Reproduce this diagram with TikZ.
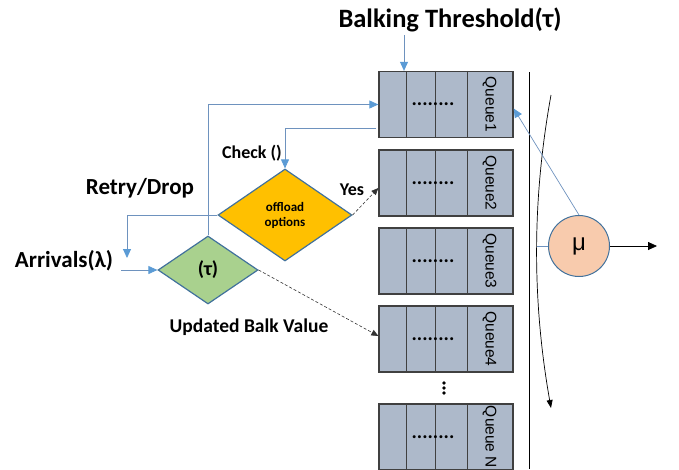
\documentclass[tikz,border=0pt]{standalone}
\usepackage{fontspec}
\setmainfont{Carlito}
\newfontfamily\qfont{Liberation Sans}
\usetikzlibrary{shapes.geometric,arrows.meta}

\definecolor{qfill}{HTML}{ADB9CA}
\definecolor{qline}{HTML}{404040}
\definecolor{offload}{HTML}{FFC000}
\definecolor{balk}{HTML}{A9D18E}
\definecolor{peach}{HTML}{F8CBAD}
\definecolor{dline}{HTML}{41719C}
\definecolor{flowline}{HTML}{6E92BE}
\definecolor{flowhead}{HTML}{5B9BD5}

\begin{document}
\begin{tikzpicture}[x=1pt,y=-1pt,
  queue/.style={draw=qline,fill=qfill,line width=1.3pt,minimum width=134pt,minimum height=66pt,inner sep=0pt},
  qname/.style={font=\qfont\fontsize{15.5}{15.5}\selectfont,rotate=-90,inner sep=0pt},
  qdots/.style={font=\bfseries\fontsize{20}{20}\selectfont,inner sep=0pt},
  decision/.style={diamond,draw=dline,line width=1.2pt,inner sep=0pt,align=center},
  lbl/.style={font=\bfseries\fontsize{23}{23}\selectfont,inner sep=0pt},
  flow/.style={draw=flowline,line width=0.9pt,-{Triangle[length=9pt,width=8pt,color=flowhead]}},
  dashlink/.style={draw=black!80,densely dashed,line width=0.6pt,-{Triangle[length=7pt,width=6pt]}}]
  \clip (0,0) rectangle (679,469);

  % queues with their cells
  \foreach \n/\y/\name in {1/104.5/Queue1,2/183/Queue2,3/261/Queue3,4/339/Queue4,N/437/Queue N}{
    \node[queue] (q\n) at (446,\y) {};
    \foreach \dx in {28,57,89}
      \draw[qline,line width=0.8pt] ([xshift=\dx pt]q\n.north west) -- ([xshift=\dx pt]q\n.south west);
    \node[qname] at ([xshift=-24pt]q\n.east) {\name};
    \node[qdots] at ([xshift=-13pt]q\n.center) {........};
  }
  \foreach \d in {383,388,393}
    \fill (444,\d) circle (1.8pt);

  \node[decision,fill=offload,minimum width=134pt,minimum height=92pt,
        font=\bfseries\fontsize{13}{15}\selectfont] (off) at (285,215) {offload\\options};
  \node[decision,fill=balk,minimum width=100pt,minimum height=68pt,
        font=\bfseries\fontsize{20}{20}\selectfont] (tau) at (208,270) {(τ)};
  \node[circle,draw=dline,fill=peach,line width=1pt,minimum size=61pt,inner sep=0pt,
        font=\qfont\fontsize{24}{24}\selectfont] (mu) at (579,246) {μ};

  \node[lbl,font=\bfseries\fontsize{26.5}{26.5}\selectfont] (bt) at (450,20) {Balking Threshold(τ)};
  \node[lbl] (arr) at (64,261) {Arrivals(λ)};
  \node[lbl] (retry) at (140,188) {Retry/Drop};
  \node[lbl,font=\bfseries\fontsize{18}{18}\selectfont] (check) at (252,153) {Check ()};
  \node[lbl,font=\bfseries\fontsize{18}{18}\selectfont] (yes) at (352,190) {Yes};
  \node[lbl,font=\bfseries\fontsize{19.5}{19.5}\selectfont] (upd) at (249,327) {Updated Balk Value};

  \coordinate (btin) at (404,35);
  \coordinate (chk) at (376,128);
  \coordinate (rd) at (127,258);
  \coordinate (ain) at (121,270);
  \draw[flow] (btin) -- (btin |- q1.north);
  \draw[flow] (tau.north) |- (q1.west);
  \draw[flow] (chk) -| (off.north);
  \draw[flow] (off.west) -| (rd);
  \draw[flow] (ain) -- (tau.west);
  \draw[dashlink] (off.east) -- ([yshift=-5pt]q2.west);
  \draw[dashlink] (tau.east) -- ([yshift=3pt]q4.west);

  % server side
  \coordinate (sa) at (551,95);
  \coordinate (sb) at (551,408);
  \coordinate (tap) at (537,246);
  \coordinate (out) at (657,246);
  \draw[line width=0.8pt] (529,72) -- (529,469);
  \draw[line width=0.7pt,-{Triangle[length=8pt,width=6pt]}] (sa) .. controls (532,200) and (532,300) .. (sb);
  \draw[flowline,line width=0.8pt] (tap) -- (mu.west);
  \draw[line width=0.8pt,-{Triangle[length=9pt,width=8pt]}] (mu.east) -- (out);
  \draw[flow,line width=0.7pt] (mu.north) -- ([yshift=-4pt]q1.east);
\end{tikzpicture}
\end{document}
